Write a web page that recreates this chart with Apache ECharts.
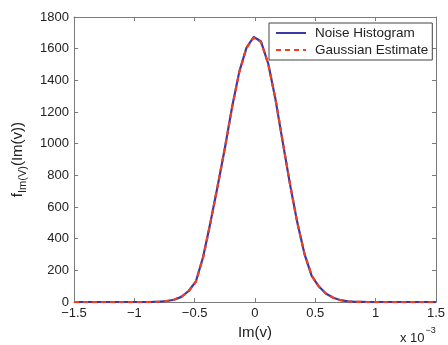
<!DOCTYPE html>
<html>
<head>
<meta charset="utf-8">
<script src="https://cdn.jsdelivr.net/npm/echarts@6/dist/echarts.min.js"></script>
<style>
html,body{margin:0;padding:0;background:#fff;}
#c{width:448px;height:345px;}
</style>
</head>
<body>
<div id="c"></div>
<script>
// x positions in units of 1e-3 (Im(v))
var xVals = [-1.5,-1.45,-1.39,-1.33,-1.27,-1.21,-1.15,-1.09,-1.03,-0.97,-0.91,-0.85,-0.79,-0.73,-0.67,-0.61,-0.55,-0.49,-0.43,-0.37,-0.31,-0.25,-0.19,-0.13,-0.07,-0.01,0.05,0.11,0.17,0.23,0.29,0.35,0.41,0.47,0.53,0.59,0.65,0.71,0.77,0.83,0.89,0.95,1.01,1.07,1.13,1.19,1.25,1.31,1.37,1.43,1.49,1.5];
var noiseHist = [0,0,0,0,0,0,0,0,0,0,0,1,3,7,15,33,70,130,285,500,730,970,1230,1455,1607,1674,1645,1505,1280,1010,745,505,305,166,98,53,27,12,5,2,1,0,0,0,0,0,0,0,0,0,0,0];
var gaussEst = [0,0,0,0,0,0,0,0,0,0,0,1,3,7,16,34,68,128,280,498,732,972,1228,1452,1605,1670,1642,1502,1282,1012,748,503,306,168,97,52,26,12,5,2,1,0,0,0,0,0,0,0,0,0,0,0];
var seriesNames = ['Noise Histogram','Gaussian Estimate'];
var xTicks = {min:-1.5, max:1.5, interval:0.5};
var yTicks = {min:0, max:1800, interval:200};

function pairs(ys){ return xVals.map(function(x,i){ return [x, ys[i]]; }); }
var fmtX = function(v){ var s = String(Math.round(v*10)/10); return s.replace('-', '\u2212'); };
var fmtY = function(v){ return String(v); };
var axisCol = '#7a7a7a';
var txtCol = '#222';
var font = '"Liberation Sans", Arial, Helvetica, sans-serif';

var chart = echarts.init(document.getElementById('c'), null, {renderer:'canvas'});
chart.setOption({
  animation:false,
  backgroundColor:'#fff',
  grid:{left:74, right:11, top:17, bottom:42, containLabel:false},
  legend:{
    data:seriesNames,
    orient:'vertical',
    left:269, top:23,
    itemWidth:30, itemHeight:14, itemGap:3,
    padding:[3,4,3,6],
    borderColor:'#444', borderWidth:1, backgroundColor:'#fff',
    itemStyle:{color:'rgba(0,0,0,0)', borderWidth:0, opacity:0},
    textStyle:{fontSize:13.5, color:txtCol, fontFamily:font, padding:[0,0,0,4]}
  },
  xAxis:[{
    type:'value', min:xTicks.min, max:xTicks.max, interval:xTicks.interval,
    name:'Im(v)', nameLocation:'middle', nameGap:22,
    nameTextStyle:{fontSize:15, color:txtCol, fontFamily:font},
    axisLine:{show:true, onZero:false, lineStyle:{color:axisCol, width:1}},
    axisTick:{show:true, inside:true, length:4, lineStyle:{color:axisCol}},
    axisLabel:{formatter:fmtX, fontSize:13, color:txtCol, fontFamily:font, margin:5},
    splitLine:{show:false}
  },{
    type:'value', position:'top', min:xTicks.min, max:xTicks.max, interval:xTicks.interval,
    axisLine:{show:true, onZero:false, lineStyle:{color:axisCol, width:1}},
    axisTick:{show:true, inside:true, length:4, lineStyle:{color:axisCol}},
    axisLabel:{show:false}, splitLine:{show:false}
  }],
  yAxis:[{
    type:'value', min:yTicks.min, max:yTicks.max, interval:yTicks.interval,
    name:'{a|f}{s|Im(V)}{a|(Im(v))}', nameLocation:'middle', nameGap:46, nameRotate:90,
    nameTextStyle:{color:txtCol, fontFamily:font, rich:{
      a:{fontSize:15, color:txtCol, fontFamily:font},
      s:{fontSize:11, color:txtCol, fontFamily:font, padding:[10,0,0,0]}
    }},
    axisLine:{show:true, onZero:false, lineStyle:{color:axisCol, width:1}},
    axisTick:{show:true, inside:true, length:4, lineStyle:{color:axisCol}},
    axisLabel:{formatter:fmtY, fontSize:13, color:txtCol, fontFamily:font, margin:5},
    splitLine:{show:false}
  },{
    type:'value', position:'right', min:yTicks.min, max:yTicks.max, interval:yTicks.interval,
    axisLine:{show:true, onZero:false, lineStyle:{color:axisCol, width:1}},
    axisTick:{show:true, inside:true, length:4, lineStyle:{color:axisCol}},
    axisLabel:{show:false}, splitLine:{show:false}
  }],
  graphic:[{
    type:'text', left:400, top:326,
    style:{text:'{a|x 10}{b|\u22123}', rich:{
      a:{fontSize:13, fill:txtCol, fontFamily:font, padding:[8,0,0,0]},
      b:{fontSize:9, fill:txtCol, fontFamily:font, padding:[0,0,8,1]}
    }}
  }],
  series:[{
    name:seriesNames[0], type:'line', data:pairs(noiseHist), symbol:'none',
    lineStyle:{color:'#3a3aa6', width:2.2, type:'solid'}, itemStyle:{color:'#3a3aa6'}, z:2
  },{
    name:seriesNames[1], type:'line', data:pairs(gaussEst), symbol:'none',
    lineStyle:{color:'#f0401e', width:2.2, type:[5,4]}, itemStyle:{color:'#f0401e'}, z:3
  }]
});
</script>
</body>
</html>
